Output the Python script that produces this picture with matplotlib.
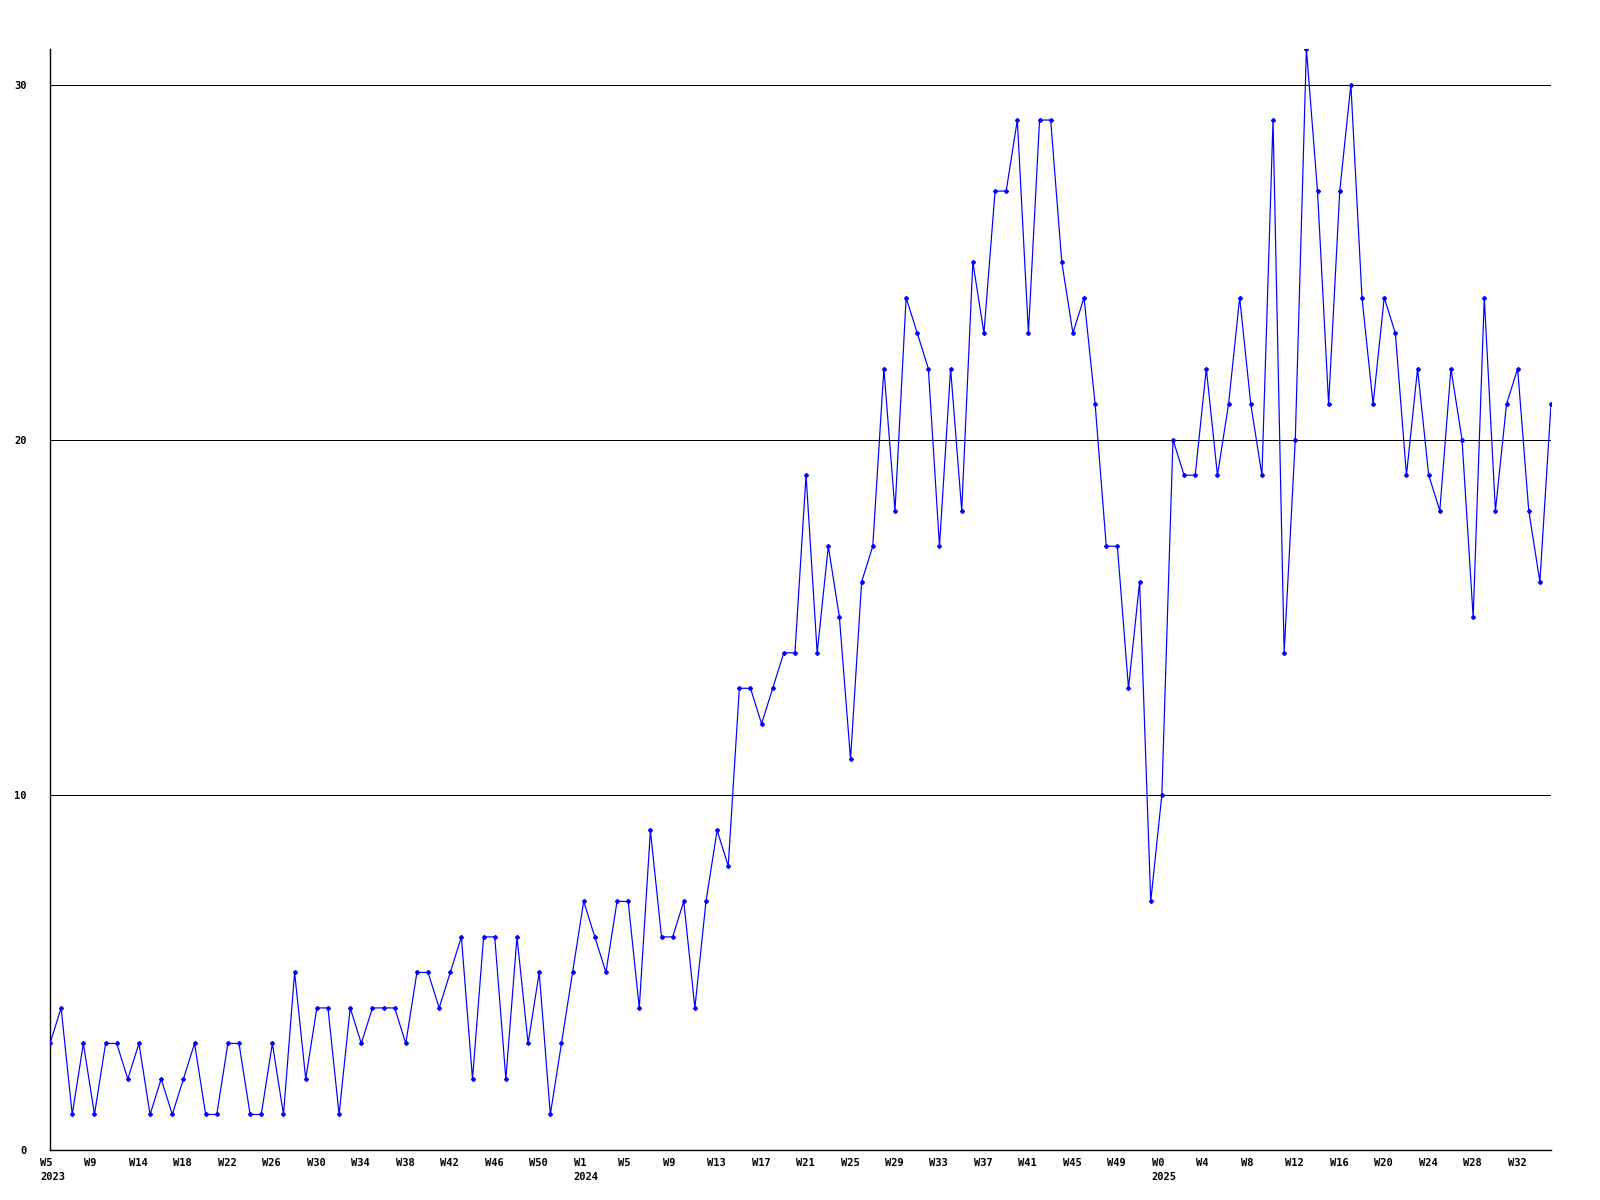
import numpy as np
import matplotlib
matplotlib.use('Agg')
import matplotlib.pyplot as plt
from matplotlib.transforms import ScaledTranslation

# 每周数值 (2023 W5 起)
values = [3, 4, 1, 3, 1, 3, 3, 2, 3, 1,
          2, 1, 2, 3, 1, 1, 3, 3, 1, 1,
          3, 1, 5, 2, 4, 4, 1, 4, 3, 4,
          4, 4, 3, 5, 5, 4, 5, 6, 2, 6,
          6, 2, 6, 3, 5, 1, 3, 5, 7, 6,
          5, 7, 7, 4, 9, 6, 6, 7, 4, 7,
          9, 8, 13, 13, 12, 13, 14, 14, 19, 14,
          17, 15, 11, 16, 17, 22, 18, 24, 23, 22,
          17, 22, 18, 25, 23, 27, 27, 29, 23, 29,
          29, 25, 23, 24, 21, 17, 17, 13, 16, 7,
          10, 20, 19, 19, 22, 19, 21, 24, 21, 19,
          29, 14, 20, 31, 27, 21, 27, 30, 24, 21,
          24, 23, 19, 22, 19, 18, 22, 20, 15, 24,
          18, 21, 22, 18, 16, 21]

# 每4个点一个刻度标签
week_labels = ['W5\n2023', 'W9', 'W14', 'W18', 'W22', 'W26', 'W30', 'W34', 'W38',
               'W42', 'W46', 'W50',
               'W1\n2024', 'W5', 'W9', 'W13', 'W17', 'W21', 'W25', 'W29', 'W33',
               'W37', 'W41', 'W45', 'W49',
               'W0\n2025', 'W4', 'W8', 'W12', 'W16', 'W20', 'W24', 'W28', 'W32']
label_step = 4

y_ticks = [0, 10, 20, 30]

x = np.arange(len(values))
px = 0.72  # 1像素线宽

fig = plt.figure(figsize=(16, 12), dpi=100)
ax = fig.add_axes([50 / 1600, 50 / 1200, 1501 / 1600, 1101 / 1200])

# 网格线
for t in y_ticks[1:]:
    ax.axhline(t, color='black', linewidth=px, zorder=1)

ax.plot(x, values, color='#0000ff', linewidth=px * 1.2, marker='D',
        markersize=2.0, zorder=3)

ax.set_xlim(0, len(values) - 1)
ax.set_ylim(0, 31)

font = dict(family='DejaVu Sans Mono', weight='bold', size=7.5)

ax.set_yticks(y_ticks)
ax.set_yticklabels([str(t) for t in y_ticks], **font)
ax.tick_params(axis='y', length=0, pad=17)

ax.set_xticks(np.arange(len(week_labels)) * label_step)
ax.set_xticklabels(week_labels, **font, linespacing=1.4)
ax.tick_params(axis='x', length=0, pad=6)
offset = ScaledTranslation(-10 / 100, 0, fig.dpi_scale_trans)
for lab in ax.get_xticklabels():
    lab.set_horizontalalignment('left')
    lab.set_multialignment('left')
    lab.set_transform(lab.get_transform() + offset)

ax.spines['top'].set_visible(False)
ax.spines['right'].set_visible(False)
ax.spines['left'].set_linewidth(px * 1.4)
ax.spines['bottom'].set_linewidth(px * 1.4)

fig.savefig('out.png', dpi=100)
